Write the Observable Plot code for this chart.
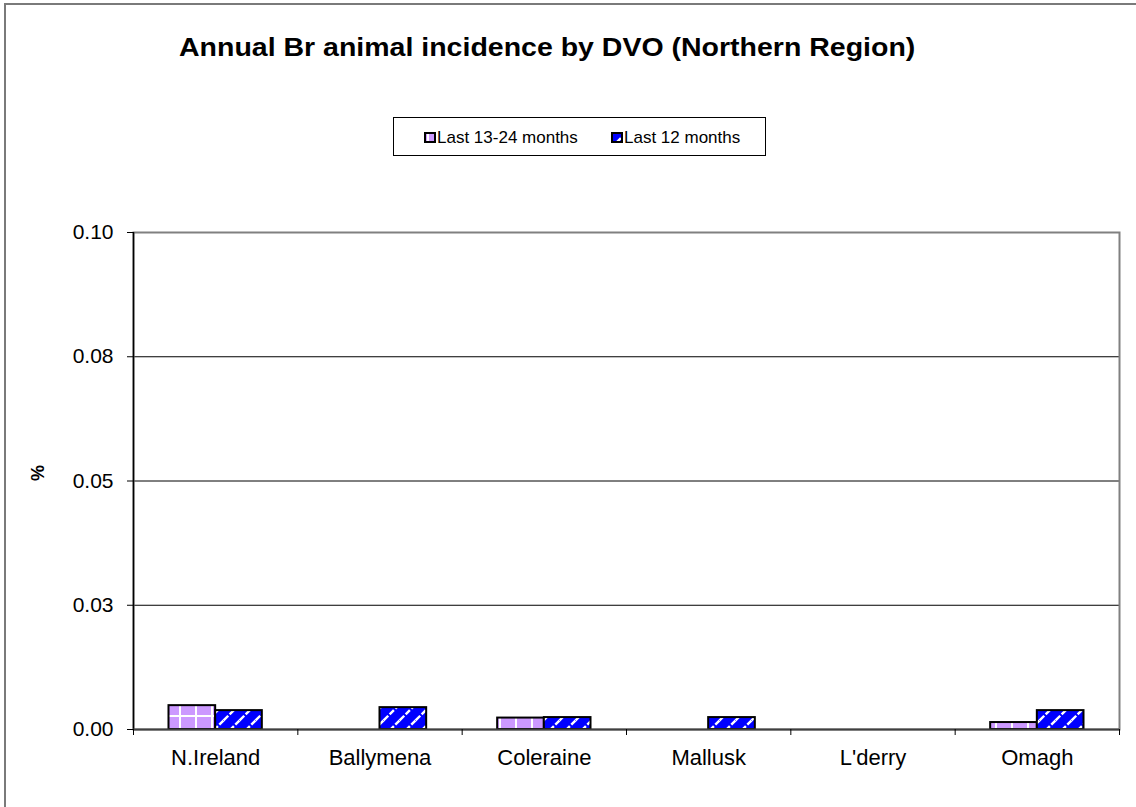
<!DOCTYPE html>
<html>
<head>
<meta charset="utf-8">
<script src="https://cdn.jsdelivr.net/npm/d3@7"></script>
<script src="https://cdn.jsdelivr.net/npm/@observablehq/plot@0.6"></script>
<style>
  html, body { margin: 0; padding: 0; background: #fff; }
  body { width: 1136px; height: 807px; position: relative; overflow: hidden;
         font-family: "Liberation Sans", Arial, sans-serif; color: #000; }
  #chart { position: absolute; left: 0; top: 0; }
  #outline { position: absolute; left: 4px; top: 3px; width: 1150px; height: 820px;
             border-top: 2px solid #7a7a7a; border-left: 2px solid #7a7a7a; pointer-events: none; }
  #title { position: absolute; left: 179px; top: 35px; font-size: 25px; line-height: 25px;
           font-weight: bold; white-space: nowrap; transform-origin: left top; transform: scaleX(1.14); }
  #legend { position: absolute; left: 393px; top: 117px; width: 373px; height: 39px;
            border: 1px solid #000; box-sizing: border-box; }
  .swatch { position: absolute; top: 132px; width: 12px; height: 11px; }
  .legtext { position: absolute; top: 129px; font-size: 17px; line-height: 17px; white-space: nowrap; }
</style>
</head>
<body>
<div id="chart"></div>
<div id="title"></div>
<div id="legend"></div>
<div id="outline"></div>
<script>
// Districts along the category axis
const categories = ["N.Ireland", "Ballymena", "Coleraine", "Mallusk", "L'derry", "Omagh"];
// Series names shown in the legend
const seriesNames = ["Last 13-24 months", "Last 12 months"];
// Incidence (%) for the earlier 12-month window
const prevYear = [0.0048, 0, 0.0023, 0, 0, 0.0014];
// Incidence (%) for the latest 12-month window
const lastYear = [0.0038, 0.0044, 0.0024, 0.0024, 0, 0.0038];
// Value-axis ticks and their printed labels
const yTicks = [0, 0.025, 0.05, 0.075, 0.1];
const yTickLabels = ["0.00", "0.03", "0.05", "0.08", "0.10"];
const titleText = "Annual Br animal incidence by DVO (Northern Region)";

const prevRows = categories.map((c, i) => ({i, category: c, value: prevYear[i]})).filter(d => d.value > 0);
const lastRows = categories.map((c, i) => ({i, category: c, value: lastYear[i]})).filter(d => d.value > 0);

// share of a category band taken by each bar
const barW = 0.284;

const chart = Plot.plot({
  width: 1136,
  height: 807,
  marginLeft: 133,
  marginRight: 17,
  marginTop: 232,
  marginBottom: 78,
  x: {domain: [0, categories.length], axis: null},
  y: {domain: [0, 0.1], axis: null},
  style: {fontFamily: "'Liberation Sans', Arial, sans-serif", background: "transparent", color: "#000"},
  marks: [
    Plot.ruleY(yTicks.slice(1, -1), {stroke: "#000", strokeWidth: 1}),
    Plot.frame({stroke: "#808080", strokeWidth: 2}),
    Plot.rectY(prevRows, {
      x1: d => d.i + 0.5 - barW, x2: d => d.i + 0.5, y1: 0, y2: "value",
      fill: "url(#gridPink)", stroke: "#000", strokeWidth: 2
    }),
    Plot.rectY(lastRows, {
      x1: d => d.i + 0.5, x2: d => d.i + 0.5 + barW, y1: 0, y2: "value",
      fill: "url(#diagBlue)", stroke: "#000", strokeWidth: 2
    }),
    Plot.ruleX([0], {stroke: "#000", strokeWidth: 1.5}),
    Plot.ruleY([0], {stroke: "#404040", strokeWidth: 2}),
    Plot.axisY({
      ticks: yTicks, tickSize: 6, tickPadding: 14, label: null,
      tickFormat: d => yTickLabels[yTicks.indexOf(d)], fontSize: 21, fontVariant: "normal"
    }),
    Plot.axisX({ticks: d3.range(categories.length + 1), tickSize: 6, tickFormat: () => "", label: null}),
    Plot.axisX({
      ticks: categories.map((_, i) => i + 0.5), tickSize: 0, tickPadding: 20, label: null,
      tickFormat: d => categories[Math.floor(d)], fontSize: 22
    }),
    Plot.text(["%"], {frameAnchor: "left", dx: -95, rotate: -90, fontSize: 18, fontWeight: "bold", fill: "#000"})
  ]
});

// Fill patterns for the two series
const svg = d3.select(chart);
const defs = svg.insert("defs", ":first-child");
const pink = defs.append("pattern").attr("id", "gridPink").attr("patternUnits", "userSpaceOnUse")
  .attr("x", 3).attr("y", 11).attr("width", 16).attr("height", 16);
pink.append("rect").attr("width", 16).attr("height", 16).attr("fill", "#cc99ff");
pink.append("rect").attr("width", 2).attr("height", 16).attr("fill", "#fff");
pink.append("rect").attr("width", 16).attr("height", 2).attr("fill", "#fff");

const blue = defs.append("pattern").attr("id", "diagBlue").attr("patternUnits", "userSpaceOnUse")
  .attr("x", 0).attr("y", 0).attr("width", 16).attr("height", 16);
blue.append("rect").attr("width", 16).attr("height", 16).attr("fill", "#0000ff");
blue.append("path").attr("d", "M0,16L16,0M-3,3L3,-3M13,19L19,13")
  .attr("stroke", "#fff").attr("stroke-width", 2.4).attr("stroke-dasharray", "6 2");

document.getElementById("chart").appendChild(chart);
document.getElementById("title").textContent = titleText;

// Legend entries
const legendItems = [
  {name: seriesNames[0], fill: "url(#gridPink)", swatchX: 424, textX: 437},
  {name: seriesNames[1], fill: "url(#diagBlue)", swatchX: 611, textX: 624}
];
for (const item of legendItems) {
  const sw = d3.select("body").append("svg").attr("class", "swatch")
    .style("left", item.swatchX + "px").attr("width", 12).attr("height", 11);
  sw.append("rect").attr("x", 1).attr("y", 1).attr("width", 10).attr("height", 9)
    .attr("fill", item.fill).attr("stroke", "#000").attr("stroke-width", 2);
  d3.select("body").append("div").attr("class", "legtext")
    .style("left", item.textX + "px").text(item.name);
}
</script>
</body>
</html>
